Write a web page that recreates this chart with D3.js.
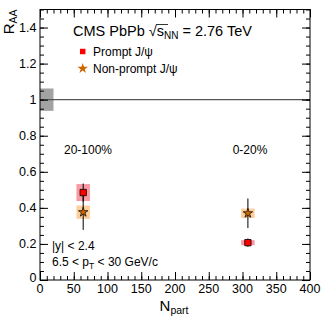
<!DOCTYPE html>
<html><head><meta charset="utf-8">
<script src="https://cdn.jsdelivr.net/npm/d3@7"></script>
<style>body{margin:0;background:#fff}svg{display:block}text{font-family:"Liberation Sans",Arial,sans-serif}</style>
</head><body>
<script>
// Data
const centralities = ["20-100%", "0-20%"];
const npart = [64, 308];
const promptRAA = [0.485, 0.207];
const promptStat = [0.05, 0.023];
const promptSyst = [0.047, 0.014];
const nonpromptRAA = [0.376, 0.37];
const nonpromptStat = [0.098, 0.082];
const nonpromptSyst = [0.037, 0.026];
const globalUnc = 0.062;
const xTicks = [0, 50, 100, 150, 200, 250, 300, 350, 400];
const yTicks = [0, 0.2, 0.4, 0.6, 0.8, 1, 1.2, 1.4];

const W = 332, H = 319;
const svg = d3.select("body").append("svg").attr("width", W).attr("height", H);
const x = d3.scaleLinear().domain([0, 400]).range([40, 310]);
const y = d3.scaleLinear().domain([0, 1.5]).range([280, 9.5]);
const boxHalf = 10;

// global uncertainty box
svg.append("rect").attr("x", x(0)).attr("width", x(20) - x(0))
  .attr("y", y(1 + globalUnc)).attr("height", y(1 - globalUnc) - y(1 + globalUnc))
  .attr("fill", "#999").attr("opacity", 0.9);
// line at 1
svg.append("line").attr("x1", x(0)).attr("x2", x(400)).attr("y1", y(1)).attr("y2", y(1))
  .attr("stroke", "#555").attr("stroke-width", 1.3);

// axes with ROOT-style inner ticks
function ticks(axisGen, transform) {
  const g = svg.append("g").attr("transform", transform).call(axisGen);
  g.selectAll(".domain").remove();
  g.selectAll("line").attr("stroke", "#000").attr("stroke-width", 1);
  g.selectAll("text").remove();
  return g;
}
const xMinor = d3.range(0, 401, 10);
const yMinor = d3.range(0, 1.501, 0.05);
ticks(d3.axisBottom(x).tickValues(xMinor).tickSize(-4), `translate(0,${y(0)})`);
ticks(d3.axisBottom(x).tickValues(xTicks).tickSize(-8), `translate(0,${y(0)})`);
ticks(d3.axisTop(x).tickValues(xMinor).tickSize(-4), `translate(0,${y(1.5)})`);
ticks(d3.axisTop(x).tickValues(xTicks).tickSize(-8), `translate(0,${y(1.5)})`);
ticks(d3.axisLeft(y).tickValues(yMinor).tickSize(-4), `translate(${x(0)},0)`);
ticks(d3.axisLeft(y).tickValues(yTicks).tickSize(-8), `translate(${x(0)},0)`);
ticks(d3.axisRight(y).tickValues(yMinor).tickSize(-4), `translate(${x(400)},0)`);
ticks(d3.axisRight(y).tickValues(yTicks).tickSize(-8), `translate(${x(400)},0)`);

// frame
svg.append("rect").attr("x", x(0)).attr("y", y(1.5)).attr("width", x(400) - x(0))
  .attr("height", y(0) - y(1.5)).attr("fill", "none").attr("stroke", "#000").attr("stroke-width", 1);

// tick labels
svg.append("g").selectAll("text").data(xTicks).join("text")
  .attr("x", d => x(d)).attr("y", 293).attr("text-anchor", "middle")
  .attr("font-size", 12.5).attr("fill", "#000").text(d => d);
svg.append("g").selectAll("text").data(yTicks).join("text")
  .attr("x", 36.5).attr("y", d => y(d) + (d === 0 ? 2 : 4.5)).attr("text-anchor", "end")
  .attr("font-size", 12.5).attr("fill", "#000").text(d => d === 0 ? "0" : d3.format(".1f")(d).replace(/^1\.0$/, "1"));

// axis titles
const yt = svg.append("text").attr("transform", `translate(14,${y(1.5)}) rotate(-90)`)
  .attr("text-anchor", "end").attr("font-size", 15).attr("fill", "#000");
yt.append("tspan").text("R");
yt.append("tspan").attr("font-size", 10.5).attr("dy", 3).text("AA");
const xt = svg.append("text").attr("x", 174).attr("y", 311).attr("text-anchor", "middle")
  .attr("font-size", 15).attr("fill", "#000");
xt.append("tspan").text("N");
xt.append("tspan").attr("font-size", 10.5).attr("dy", 3).text("part");

// systematics boxes
const data = npart.map((n, i) => ({n, i}));
const g = svg.append("g");
g.selectAll(".bp").data(data).join("rect")
  .attr("x", d => x(d.n - boxHalf)).attr("width", d => x(d.n + boxHalf) - x(d.n - boxHalf))
  .attr("y", d => y(promptRAA[d.i] + promptSyst[d.i]))
  .attr("height", d => y(promptRAA[d.i] - promptSyst[d.i]) - y(promptRAA[d.i] + promptSyst[d.i]))
  .attr("fill", "#f79aa3");
g.selectAll(".bn").data(data).join("rect")
  .attr("x", d => x(d.n - boxHalf)).attr("width", d => x(d.n + boxHalf) - x(d.n - boxHalf))
  .attr("y", d => y(nonpromptRAA[d.i] + nonpromptSyst[d.i]))
  .attr("height", d => y(nonpromptRAA[d.i] - nonpromptSyst[d.i]) - y(nonpromptRAA[d.i] + nonpromptSyst[d.i]))
  .attr("fill", "#fdcf9c");
// stat errors
g.selectAll(".ep").data(data).join("line")
  .attr("x1", d => x(d.n)).attr("x2", d => x(d.n))
  .attr("y1", d => y(promptRAA[d.i] + promptStat[d.i])).attr("y2", d => y(promptRAA[d.i] - promptStat[d.i]))
  .attr("stroke", "#000").attr("stroke-width", 1);
g.selectAll(".en").data(data).join("line")
  .attr("x1", d => x(d.n)).attr("x2", d => x(d.n))
  .attr("y1", d => y(nonpromptRAA[d.i] + nonpromptStat[d.i])).attr("y2", d => y(nonpromptRAA[d.i] - nonpromptStat[d.i]))
  .attr("stroke", "#000").attr("stroke-width", 1);
// markers
const sq = d3.symbol().type(d3.symbolSquare).size(40);
const st = d3.symbol().type(d3.symbolStar).size(28);
g.selectAll(".mp").data(data).join("path").attr("d", sq)
  .attr("transform", d => `translate(${x(d.n)},${y(promptRAA[d.i])})`)
  .attr("fill", "#ff0000").attr("stroke", "#000").attr("stroke-width", 0.8);
g.selectAll(".mn").data(data).join("path").attr("d", st)
  .attr("transform", d => `translate(${x(d.n)},${y(nonpromptRAA[d.i])})`)
  .attr("fill", "#cc6600").attr("stroke", "#000").attr("stroke-width", 0.7);

// centrality labels
svg.append("g").selectAll("text").data(data).join("text")
  .attr("x", d => d.i === 0 ? 88 : 250).attr("y", 154).attr("text-anchor", "middle")
  .attr("font-size", 12).attr("fill", "#000").text(d => centralities[d.i]);

// header
const hd = svg.append("text").attr("x", 73).attr("y", 36).attr("font-size", 14.5).attr("fill", "#000");
hd.append("tspan").text("CMS PbPb  ");
hd.append("tspan").text("\u221A");
hd.append("tspan").text("s");
hd.append("tspan").attr("font-size", 10).attr("dy", 3).text("NN");
hd.append("tspan").attr("dy", -3).text(" = 2.76 TeV");
// sqrt overline
svg.append("line").attr("x1", 156).attr("x2", 168).attr("y1", 24.5).attr("y2", 24.5).attr("stroke", "#000").attr("stroke-width", 0.8);

// legend
svg.append("path").attr("d", d3.symbol().type(d3.symbolSquare).size(30)).attr("transform", "translate(82.7,51.5)").attr("fill", "#ff0000");
svg.append("text").attr("x", 93).attr("y", 56).attr("font-size", 12).attr("fill", "#000").text("Prompt J/\u03C8");
svg.append("path").attr("d", d3.symbol().type(d3.symbolStar).size(34)).attr("transform", "translate(82.7,68.5)")
  .attr("fill", "#cc6600");
svg.append("text").attr("x", 93).attr("y", 73).attr("font-size", 12).attr("fill", "#000").text("Non-prompt J/\u03C8");

// cuts
svg.append("text").attr("x", 52).attr("y", 250).attr("font-size", 12).attr("fill", "#000").text("|y| < 2.4");
const pt = svg.append("text").attr("x", 52).attr("y", 266).attr("font-size", 12).attr("fill", "#000");
pt.append("tspan").text("6.5 < p");
pt.append("tspan").attr("font-size", 8.5).attr("dy", 3).text("T");
pt.append("tspan").attr("dy", -3).text(" < 30 GeV/c");
</script>
</body></html>
